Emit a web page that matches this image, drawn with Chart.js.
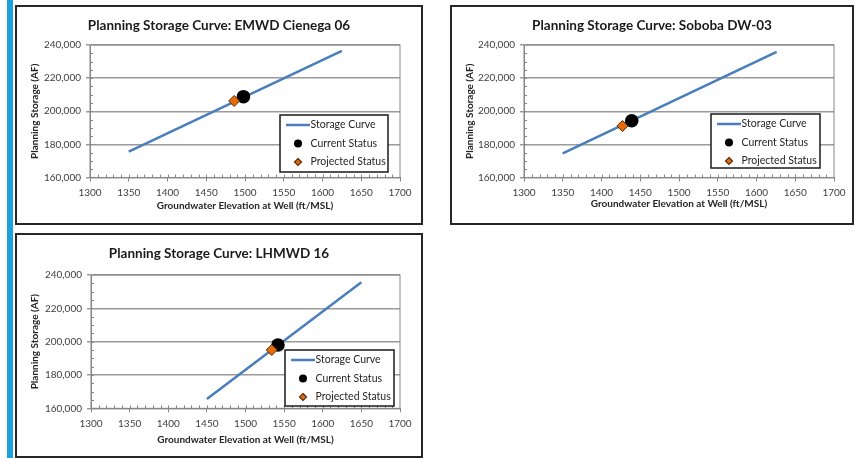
<!DOCTYPE html>
<html>
<head>
<meta charset="utf-8">
<script src="https://cdn.jsdelivr.net/npm/chart.js@4"></script>
<style>
  html, body { margin: 0; padding: 0; background: #ffffff; }
  body { width: 855px; height: 458px; position: relative; overflow: hidden; font-family: Lato, "Open Sans", sans-serif; }
  .bar { position: absolute; left: 7px; top: 0; width: 6px; height: 458px; background: #1ba1dc; }
  .box { position: absolute; border: 2px solid #262626; box-sizing: border-box; background: #fff; }
  .cv { position: absolute; }
</style>
</head>
<body>
<div class="bar"></div>
<div class="box" style="left:15px;top:5px;width:408px;height:220px;"></div>
<div class="box" style="left:450px;top:5px;width:404px;height:220px;"></div>
<div class="box" style="left:15px;top:233px;width:408px;height:225px;"></div>
<div class="cv" style="left:17px;top:7px;width:404px;height:216px;"><canvas id="c1"></canvas></div>
<div class="cv" style="left:452px;top:7px;width:400px;height:216px;"><canvas id="c2"></canvas></div>
<div class="cv" style="left:17px;top:235px;width:404px;height:220px;"><canvas id="c3"></canvas></div>
<script>
// ---------- DATA ----------
const chartTitles = [
  "Planning Storage Curve: EMWD Cienega 06",
  "Planning Storage Curve: Soboba DW-03",
  "Planning Storage Curve: LHMWD 16"
];
const xAxisTitle = "Groundwater Elevation at Well (ft/MSL)";
const yAxisTitle = "Planning Storage (AF)";
const legendLabels = ["Storage Curve", "Current Status", "Projected Status"];

const xTickValues = [1300, 1350, 1400, 1450, 1500, 1550, 1600, 1650, 1700];
const yTickValues = [160000, 180000, 200000, 220000, 240000];

// EMWD Cienega 06
const cienegaCurveX = [1350, 1625];
const cienegaCurveY = [175600, 236500];
const cienegaCurrent = [1498, 208800];
const cienegaProjected = [1486, 206200];

// Soboba DW-03
const sobobaCurveX = [1350, 1626];
const sobobaCurveY = [174600, 235900];
const sobobaCurrent = [1439, 194300];
const sobobaProjected = [1427, 191100];

// LHMWD 16
const lhmwdCurveX = [1450, 1650];
const lhmwdCurveY = [165600, 235600];
const lhmwdCurrent = [1542, 198000];
const lhmwdProjected = [1534, 195000];

// ---------- STYLE ----------
const FONT = "Lato";
const LINE_COLOR = "#4a7ebb";
const ORANGE = "#e46c0a";
const AXIS_GRAY = "#868686";
const GRID_GRAY = "#9a9a9a";
const TEXT_DARK = "#262626";
const TICK_TEXT = "#404040";

const decorPlugin = {
  id: "decor",
  beforeDatasetsDraw(chart) {
    const {ctx, chartArea: a, scales: {x, y}} = chart;
    ctx.save();
    ctx.strokeStyle = AXIS_GRAY;
    ctx.lineWidth = 1;
    ctx.strokeRect(a.left, a.top, a.right - a.left, a.bottom - a.top);
    ctx.beginPath();
    for (let v = x.min + 10; v < x.max; v += 10) {
      const px = Math.round(x.getPixelForValue(v)) + 0.5;
      ctx.moveTo(px, a.bottom);
      ctx.lineTo(px, a.bottom - 3);
    }
    for (let v = y.min + 5000; v < y.max; v += 5000) {
      const py = Math.round(y.getPixelForValue(v)) + 0.5;
      ctx.moveTo(a.left, py);
      ctx.lineTo(a.left + 3, py);
    }
    ctx.stroke();
    ctx.restore();
  },
  afterDatasetsDraw(chart, args, opts) {
    const {ctx, chartArea: a} = chart;
    const w = opts.width, h = opts.height;
    const left = a.right - opts.right - w;
    const top = a.bottom - opts.bottom - h;
    ctx.save();
    ctx.fillStyle = "#ffffff";
    ctx.fillRect(left, top, w, h);
    ctx.strokeStyle = "#1a1a1a";
    ctx.lineWidth = 1.5;
    ctx.strokeRect(left, top, w, h);
    const rows = [top + 10, top + 28.5, top + 47];
    const mx = left + 18;
    ctx.strokeStyle = LINE_COLOR;
    ctx.lineWidth = 2.5;
    ctx.beginPath();
    ctx.moveTo(left + 6, rows[0]);
    ctx.lineTo(left + 30, rows[0]);
    ctx.stroke();
    ctx.fillStyle = "#000000";
    ctx.beginPath();
    ctx.arc(mx, rows[1], 4, 0, Math.PI * 2);
    ctx.fill();
    ctx.fillStyle = ORANGE;
    ctx.strokeStyle = "#5a2a08";
    ctx.lineWidth = 1.2;
    ctx.beginPath();
    ctx.moveTo(mx, rows[2] - 3.5);
    ctx.lineTo(mx + 3.5, rows[2]);
    ctx.lineTo(mx, rows[2] + 3.5);
    ctx.lineTo(mx - 3.5, rows[2]);
    ctx.closePath();
    ctx.fill();
    ctx.stroke();
    ctx.fillStyle = TEXT_DARK;
    ctx.font = "10.5px " + FONT;
    ctx.textBaseline = "middle";
    ctx.textAlign = "left";
    legendLabels.forEach((t, i) => ctx.fillText(t, left + 30.5, rows[i]));
    ctx.restore();
  }
};

function makeChart(id, title, curveX, curveY, current, projected, L) {
  const curve = curveX.map((v, i) => ({x: v, y: curveY[i]}));
  return new Chart(document.getElementById(id), {
    type: "scatter",
    data: {
      datasets: [
        {label: legendLabels[0], data: curve, showLine: true, borderColor: LINE_COLOR,
         borderWidth: 2.5, pointRadius: 0, order: 3},
        {label: legendLabels[1], data: [{x: current[0], y: current[1]}], pointStyle: "circle",
         pointRadius: 6.8, backgroundColor: "#000000", borderColor: "#000000", borderWidth: 0, order: 2},
        {label: legendLabels[2], data: [{x: projected[0], y: projected[1]}], pointStyle: "rectRot",
         pointRadius: 5.5, backgroundColor: ORANGE, borderColor: "#5a2a08", borderWidth: 1, order: 1}
      ]
    },
    options: {
      responsive: true,
      maintainAspectRatio: false,
      animation: false,
      layout: {padding: 0},
      plugins: {
        legend: {display: false},
        tooltip: {enabled: false},
        title: {
          display: true, text: title, color: "#1a1a1a",
          font: {family: FONT, size: 13.5, weight: "bold"},
          padding: {top: L.titleTop, bottom: L.titleBottom}
        },
        decor: L.legend
      },
      scales: {
        x: {
          type: "linear", min: xTickValues[0], max: xTickValues[xTickValues.length - 1],
          afterBuildTicks(scale) { scale.ticks = xTickValues.map(v => ({value: v})); },
          afterFit(scale) { scale.height = L.xHeight; },
          ticks: {color: TICK_TEXT, font: {family: FONT, size: 10}, padding: 5, maxRotation: 0,
                  callback: v => String(v)},
          grid: {drawOnChartArea: false, drawTicks: true, tickLength: 4, color: AXIS_GRAY, lineWidth: 1},
          border: {display: true, color: AXIS_GRAY, width: 1},
          title: {display: true, text: xAxisTitle, color: TEXT_DARK,
                  font: {family: FONT, size: 10, weight: "bold"}, padding: {top: 0, bottom: L.xTitlePad}}
        },
        y: {
          type: "linear", min: yTickValues[0], max: yTickValues[yTickValues.length - 1],
          afterBuildTicks(scale) { scale.ticks = yTickValues.map(v => ({value: v})); },
          afterFit(scale) { scale.width = L.yWidth; },
          ticks: {color: TICK_TEXT, font: {family: FONT, size: 10}, padding: 5,
                  callback: v => Number(v).toLocaleString("en-US")},
          grid: {drawOnChartArea: true, drawTicks: true, tickLength: 4, color: GRID_GRAY, lineWidth: 1.5},
          border: {display: true, color: AXIS_GRAY, width: 1},
          title: {display: true, text: yAxisTitle, color: TEXT_DARK,
                  font: {family: FONT, size: 10, weight: "bold"}, padding: {top: L.yTitlePad, bottom: 0}}
        },
        rightSpace: {
          type: "linear", position: "right", display: true,
          afterFit(scale) { scale.width = L.padRight; },
          ticks: {display: false},
          grid: {display: false, drawTicks: false},
          border: {display: false},
          title: {display: false}
        }
      }
    },
    plugins: [decorPlugin]
  });
}

makeChart("c1", chartTitles[0], cienegaCurveX, cienegaCurveY, cienegaCurrent, cienegaProjected, {
  padRight: 21, titleTop: 10.5, titleBottom: 11.3, xHeight: 45.5, yWidth: 73, xTitlePad: 11.5, yTitlePad: 12,
  legend: {width: 108, height: 57, right: 12, bottom: 5.5}
});
makeChart("c2", chartTitles[1], sobobaCurveX, sobobaCurveY, sobobaCurrent, sobobaProjected, {
  padRight: 18, titleTop: 10.5, titleBottom: 11.3, xHeight: 45.5, yWidth: 72, xTitlePad: 13, yTitlePad: 12,
  legend: {width: 109, height: 54, right: 14, bottom: 9.5}
});
makeChart("c3", chartTitles[2], lhmwdCurveX, lhmwdCurveY, lhmwdCurrent, lhmwdProjected, {
  padRight: 21, titleTop: 11, titleBottom: 12.8, xHeight: 46.7, yWidth: 74, xTitlePad: 9.5, yTitlePad: 12,
  legend: {width: 109, height: 56, right: 6, bottom: 2.3}
});
</script>
</body>
</html>
